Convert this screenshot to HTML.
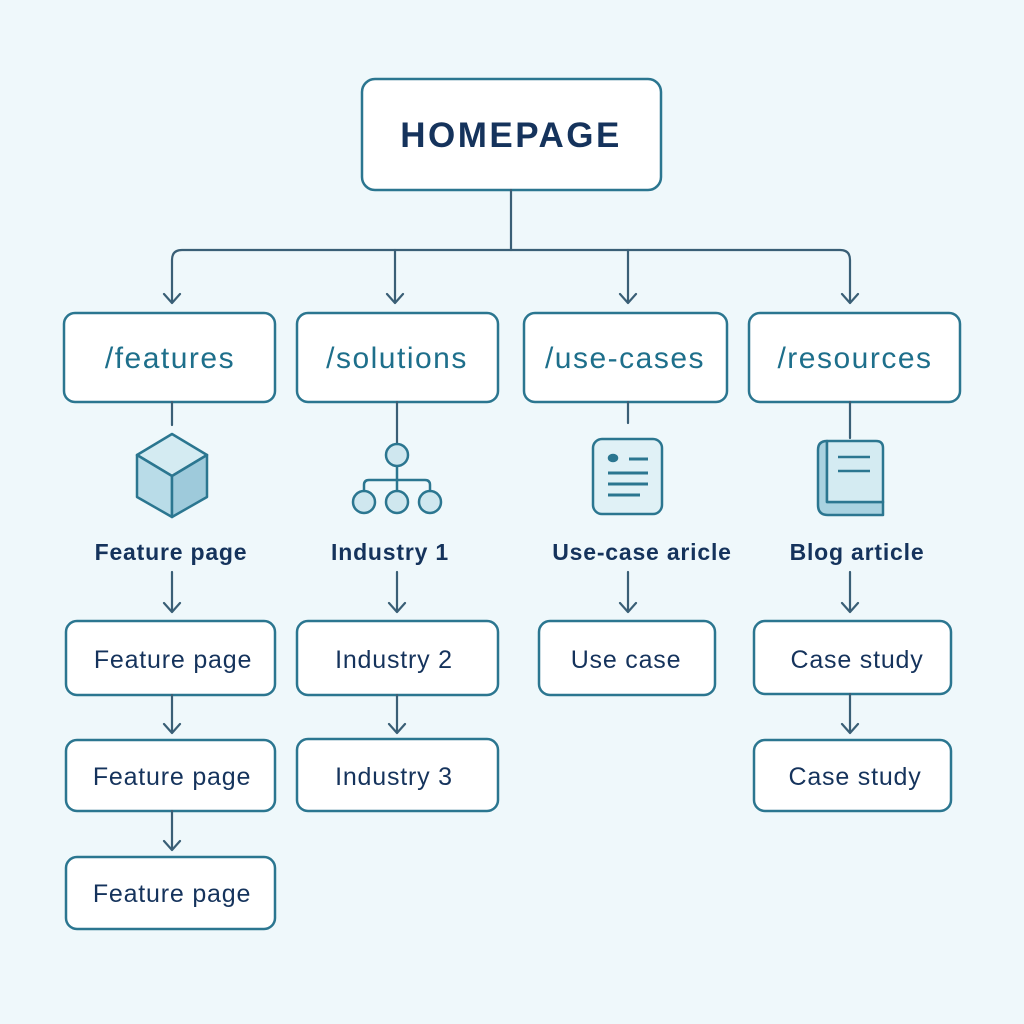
<!DOCTYPE html>
<html><head><meta charset="utf-8"><style>
html,body{margin:0;padding:0;background:#eff8fb;}
svg{display:block}
text{font-family:"Liberation Sans","DejaVu Sans",sans-serif;}
</style></head><body>
<svg width="1024" height="1024" viewBox="0 0 1024 1024" xmlns="http://www.w3.org/2000/svg">
<rect width="1024" height="1024" fill="#eff8fb"/>
<g fill="#fff" stroke="#2b7690" stroke-width="2.5">
<rect x="362" y="79" width="299" height="111" rx="13"/>
<rect x="64" y="313" width="211" height="89" rx="11"/>
<rect x="297" y="313" width="201" height="89" rx="11"/>
<rect x="524" y="313" width="203" height="89" rx="11"/>
<rect x="749" y="313" width="211" height="89" rx="11"/>
<rect x="66" y="621" width="209" height="74" rx="11"/>
<rect x="66" y="740" width="209" height="71" rx="11"/>
<rect x="66" y="857" width="209" height="72" rx="11"/>
<rect x="297" y="621" width="201" height="74" rx="11"/>
<rect x="297" y="739" width="201" height="72" rx="11"/>
<rect x="539" y="621" width="176" height="74" rx="11"/>
<rect x="754" y="621" width="197" height="73" rx="11"/>
<rect x="754" y="740" width="197" height="71" rx="11"/>
</g>
<g fill="none" stroke="#3a5f76" stroke-width="2.2" stroke-linecap="round" stroke-linejoin="round">
<path d="M511 190V250"/>
<path d="M172 302V260Q172 250 182 250H840Q850 250 850 260V302"/>
<path d="M395 250V302M628 250V302"/>
<path d="M164 294L172 303L180 294M387 294L395 303L403 294M620 294L628 303L636 294M842 294L850 303L858 294"/>
<path d="M172 402V425M397 402V443M628 402V423M850 402V438"/>
<path d="M172 572V611M397 572V611M628 572V611M850 572V611"/>
<path d="M164 603L172 612L180 603M389 603L397 612L405 603M620 603L628 612L636 603M842 603L850 612L858 603"/>
<path d="M172 695V732M172 811V849M397 695V732M850 694V732"/>
<path d="M164 724L172 733L180 724M164 841L172 850L180 841M389 724L397 733L405 724M842 724L850 733L858 724"/>
</g>
<g stroke="#2b7690" stroke-width="2.5" stroke-linejoin="round">
<path d="M172 434L207 455L172 476L137 455Z" fill="#d4ebf2"/>
<path d="M137 455L172 476V517L137 497Z" fill="#b9dce8"/>
<path d="M207 455L172 476V517L207 497Z" fill="#9ecadb"/>
</g>
<g stroke="#2b7690" stroke-width="2.5" fill="none">
<path d="M397 465V491M364 491V485Q364 480 369 480H425Q430 480 430 485V491"/>
<circle cx="397" cy="455" r="11" fill="#cfe7ef"/>
<circle cx="364" cy="502" r="11" fill="#cfe7ef"/>
<circle cx="397" cy="502" r="11" fill="#cfe7ef"/>
<circle cx="430" cy="502" r="11" fill="#cfe7ef"/>
</g>
<g stroke="#2b7690" stroke-width="2.5" fill="none">
<rect x="593" y="439" width="69" height="75" rx="9" fill="#e0f1f6"/>
<path d="M629 459H648M608 473H648M608 484H648M608 495H640" stroke-width="3"/>
<ellipse cx="613" cy="458" rx="4" ry="3" fill="#2b7690"/>
</g>
<g stroke="#2b7690" stroke-width="2.5" stroke-linejoin="round">
<path d="M827 441Q818 441 818 450V505Q818 515 828 515H883V502H827Z" fill="#a9d2e0"/>
<path d="M827 441H876Q883 441 883 448V502H827Z" fill="#d4ebf2"/>
<path d="M838 457H870M838 471H870" fill="none"/>
</g>
<g text-anchor="middle">
<text x="511" y="147" font-size="35" font-weight="bold" fill="#15335c" letter-spacing="2.5">HOMEPAGE</text>
<g font-size="30" fill="#1e6f8b" letter-spacing="1.5">
<text x="170" y="368">/features</text>
<text x="397" y="368">/solutions</text>
<text x="625" y="368">/use-cases</text>
<text x="855" y="368">/resources</text>
</g>
<g font-size="23" font-weight="bold" fill="#15335c" letter-spacing="0.8">
<text x="171" y="560">Feature page</text>
<text x="390" y="560">Industry 1</text>
<text x="642" y="560">Use-case aricle</text>
<text x="857" y="560">Blog article</text>
</g>
<g font-size="25" fill="#15335c" letter-spacing="0.8">
<text x="173" y="668">Feature page</text>
<text x="172" y="785">Feature page</text>
<text x="172" y="902">Feature page</text>
<text x="394" y="668">Industry  2</text>
<text x="394" y="785">Industry  3</text>
<text x="626" y="668">Use  case</text>
<text x="857" y="668">Case study</text>
<text x="855" y="785">Case study</text>
</g>
</g>
</svg>
</body></html>
